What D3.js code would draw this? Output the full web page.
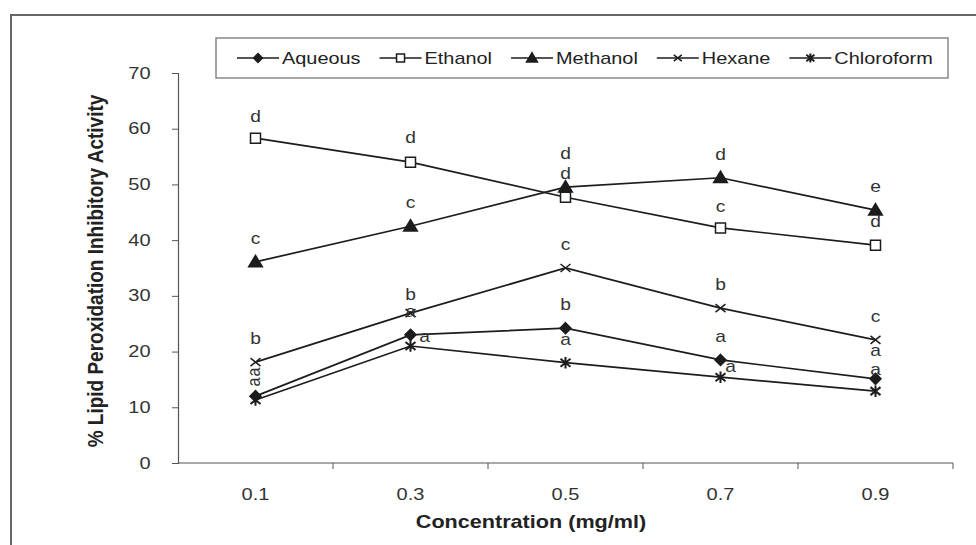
<!DOCTYPE html>
<html>
<head>
<meta charset="utf-8">
<script src="https://cdn.jsdelivr.net/npm/d3@7"></script>
<style>
    html, body { margin: 0; padding: 0; background: #fff; }
    svg { display: block; font-family: Arial, "Liberation Sans", sans-serif; }
</style>
</head>
<body>
<div id="chart"></div>
<script>
// Values
var categories = ["0.1", "0.3", "0.5", "0.7", "0.9"];
var yTicks = [0, 10, 20, 30, 40, 50, 60, 70];

var aqueous    = [12.0, 23.0, 24.2, 18.5, 15.1];
var ethanol    = [58.3, 54.0, 47.7, 42.2, 39.1];
var methanol   = [36.1, 42.5, 49.5, 51.2, 45.4];
var hexane     = [18.1, 26.9, 35.0, 27.8, 22.1];
var chloroform = [11.3, 21.0, 18.0, 15.4, 12.9];

// significance letters, one per concentration
var aqueousLetters    = ["a", "a", "b", "a", "a"];
var ethanolLetters    = ["d", "d", "d", "c", "d"];
var methanolLetters   = ["c", "c", "d", "d", "e"];
var hexaneLetters     = ["b", "b", "c", "b", "c"];
var chloroformLetters = ["a", "a", "a", "a", "a"];

var series = [
    { name: "Aqueous",    values: aqueous,    letters: aqueousLetters,    marker: "diamond" },
    { name: "Ethanol",    values: ethanol,    letters: ethanolLetters,    marker: "square" },
    { name: "Methanol",   values: methanol,   letters: methanolLetters,   marker: "triangle" },
    { name: "Hexane",     values: hexane,     letters: hexaneLetters,     marker: "cross" },
    { name: "Chloroform", values: chloroform, letters: chloroformLetters, marker: "star" }
];

// the picture is stretched a bit sideways, so is the text
var SX = 1.2;
var ink = "#1c1c1c";

var W = 976, H = 545;
var plot = { left: 178, right: 953, top: 73, bottom: 463 };

var svg = d3.select("#chart").append("svg")
    .attr("width", W)
    .attr("height", H);

// outer frame (only top and left edges show)
svg.append("path")
    .attr("d", "M11," + H + "V15H" + W)
    .attr("fill", "none")
    .attr("stroke", "#666")
    .attr("stroke-width", 2);

var x = d3.scaleBand().domain(categories).range([plot.left, plot.right]).padding(0);
var y = d3.scaleLinear().domain([0, 70]).range([plot.bottom, plot.top]);
function cx(i) { return x(categories[i]) + x.bandwidth() / 2; }

// ****************** axes ***************************
var yAxis = svg.append("g")
    .attr("transform", "translate(" + plot.left + ",0)")
    .call(d3.axisLeft(y).tickValues(yTicks).tickSize(6).tickPadding(16).tickFormat(d3.format("d")));
yAxis.select(".domain").attr("stroke", "#555").attr("stroke-width", 1.2);
yAxis.selectAll(".tick line").attr("stroke", "#555");
yAxis.selectAll("text")
    .attr("fill", "#333")
    .style("font-size", "16px")
    .attr("transform", "scale(1.25,1)");

var xAxis = svg.append("g")
    .attr("transform", "translate(0," + plot.bottom + ")")
    .call(d3.axisBottom(x).tickSize(0).tickPadding(26));
xAxis.select(".domain").remove();
xAxis.selectAll("text")
    .attr("fill", "#333")
    .style("font-size", "16px")
    .attr("transform", "scale(1.25,1)");

// axis line and tick marks between the categories
svg.append("line")
    .attr("x1", plot.left).attr("x2", plot.right)
    .attr("y1", plot.bottom).attr("y2", plot.bottom)
    .attr("stroke", "#555").attr("stroke-width", 1.2);
svg.selectAll("line.xtick")
    .data(categories)
    .enter().append("line")
    .attr("class", "xtick")
    .attr("x1", function (d) { return x(d) + x.bandwidth(); })
    .attr("x2", function (d) { return x(d) + x.bandwidth(); })
    .attr("y1", plot.bottom).attr("y2", plot.bottom + 6)
    .attr("stroke", "#555");

// axis titles
svg.append("g")
    .attr("transform", "translate(103,271) scale(" + SX + ",1) rotate(-90)")
    .append("text")
    .attr("text-anchor", "middle")
    .attr("fill", "#222")
    .style("font-size", "19px")
    .style("font-weight", "bold")
    .text("% Lipid Peroxidation Inhibitory Activity");

svg.append("g")
    .attr("transform", "translate(531,528) scale(" + SX + ",1)")
    .append("text")
    .attr("text-anchor", "middle")
    .attr("fill", "#222")
    .style("font-size", "18px")
    .style("font-weight", "bold")
    .text("Concentration (mg/ml)");

// ****************** markers ***************************
function markerPath(kind, s) {
    switch (kind) {
        case "diamond":  return "M0," + (-s) + "L" + s + ",0L0," + s + "L" + (-s) + ",0Z";
        case "square":   return "M" + (-s) + "," + (-s) + "h" + (2 * s) + "v" + (2 * s) + "h" + (-2 * s) + "Z";
        case "triangle": return "M0," + (-s) + "L" + (s * 1.05) + "," + (s * 0.75) + "L" + (-s * 1.05) + "," + (s * 0.75) + "Z";
        case "cross":    return "M" + (-s) + "," + (-s * 0.8) + "L" + s + "," + (s * 0.8) + "M" + (-s) + "," + (s * 0.8) + "L" + s + "," + (-s * 0.8);
        case "star":     return "M" + (-s) + "," + (-s * 0.8) + "L" + s + "," + (s * 0.8) + "M" + (-s) + "," + (s * 0.8) + "L" + s + "," + (-s * 0.8)
                              + "M0," + (-s * 1.15) + "V" + (s * 1.15);
    }
}
var markerSize = { diamond: 5.5, square: 5, triangle: 6.5, cross: 5, star: 5 };

function drawMarker(g, kind, s) {
    var open = kind === "square" || kind === "cross" || kind === "star";
    g.append("path")
        .attr("d", markerPath(kind, s))
        .attr("fill", kind === "square" ? "#fff" : (open ? "none" : ink))
        .attr("stroke", ink)
        .attr("stroke-width", kind === "star" ? 2 : 1.5)
        .attr("stroke-linejoin", "miter");
}

// ****************** lines ***************************
var line = d3.line()
    .x(function (d, i) { return cx(i); })
    .y(function (d) { return y(d); });

svg.selectAll("path.series")
    .data(series)
    .enter().append("path")
    .attr("class", "series")
    .attr("d", function (d) { return line(d.values); })
    .attr("fill", "none")
    .attr("stroke", ink)
    .attr("stroke-width", 1.7);

series.forEach(function (s) {
    s.values.forEach(function (v, i) {
        var g = svg.append("g").attr("transform", "translate(" + cx(i) + "," + y(v) + ")");
        drawMarker(g, s.marker, markerSize[s.marker]);
    });
});

// ****************** letters ***************************
// default sits just above the point; a few are pushed aside like in the source
var nudge = {
    "Ethanol-0": { dy: -16 }, "Ethanol-1": { dy: -19 }, "Ethanol-2": { dy: -18 }, "Ethanol-3": { dy: -16 },
    "Methanol-2": { dy: -28 },
    "Hexane-1": { dy: -13 },
    "Aqueous-0": { dx: 4, dy: -14, rot: true }, "Chloroform-0": { dx: 4, dy: -28, rot: true },
    "Chloroform-1": { dx: 14, dy: -4 }, "Chloroform-3": { dx: 10, dy: -5 },
    "Aqueous-4": { dy: -23 }, "Chloroform-4": { dy: -16 }
};

series.forEach(function (s) {
    s.letters.forEach(function (t, i) {
        var n = nudge[s.name + "-" + i] || {};
        var dx = n.dx || 0, dy = n.dy === undefined ? -18 : n.dy;
        var g = svg.append("g")
            .attr("transform", "translate(" + (cx(i) + dx) + "," + (y(s.values[i]) + dy) + ") scale(" + SX + ",1)"
                + (n.rot ? " rotate(-90)" : ""));
        g.append("text")
            .attr("text-anchor", "middle")
            .attr("fill", "#333")
            .style("font-size", "16px")
            .text(t);
    });
});

// ****************** legend ***************************
var legendBox = { x: 216, y: 38, w: 732, h: 40 };
var legend = svg.append("g");
legend.append("rect")
    .attr("x", legendBox.x).attr("y", legendBox.y)
    .attr("width", legendBox.w).attr("height", legendBox.h)
    .attr("fill", "#fff")
    .attr("stroke", "#888")
    .attr("stroke-width", 1.5);

var LSX = 1.17;
var lx = 237, ly = legendBox.y + legendBox.h / 2;
series.forEach(function (s) {
    legend.append("line")
        .attr("x1", lx).attr("x2", lx + 42)
        .attr("y1", ly).attr("y2", ly)
        .attr("stroke", ink).attr("stroke-width", 1.7);
    drawMarker(legend.append("g").attr("transform", "translate(" + (lx + 21) + "," + ly + ")"),
        s.marker, markerSize[s.marker] * 0.8);
    var tg = legend.append("g")
        .attr("transform", "translate(" + (lx + 45) + "," + (ly + 6) + ") scale(" + LSX + ",1)");
    var txt = tg.append("text")
        .attr("fill", "#222")
        .style("font-size", "17px")
        .text(s.name);
    lx += 45 + txt.node().getComputedTextLength() * LSX + 19;
});
</script>
</body>
</html>
